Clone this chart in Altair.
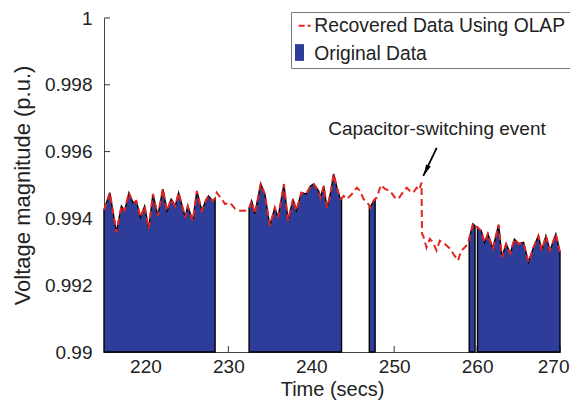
import altair as alt
import pandas as pd

# ---------------- data ----------------
time = [
    215.0, 215.7, 216.5, 217.1, 217.5, 218.0, 218.5, 218.9, 219.4, 219.9,
    220.4, 220.9, 221.5, 222.1, 222.6, 223.1, 223.6, 224.0, 224.8, 225.1,
    225.7, 226.2, 226.8, 227.3, 227.6, 228.1, 228.4,
    228.6, 229.2, 229.6, 230.2, 230.8, 231.4, 232.0,
    232.5, 232.8, 233.2, 233.9, 234.4, 235.0, 235.6, 236.0, 236.7, 237.2,
    237.8, 238.2, 238.8, 239.4, 239.9, 240.3, 240.9, 241.1, 241.5, 241.9,
    242.3, 242.7, 243.1, 243.5, 243.65,
    243.9, 244.3, 244.9, 245.5, 245.9, 246.3, 246.7,
    247.0, 247.1, 247.5, 247.7,
    247.9, 248.4, 248.9, 249.5, 250.1, 250.5, 250.9, 251.5, 251.9, 252.3,
    252.7, 253.0, 253.3, 253.35, 253.5, 253.9, 254.3, 254.7, 255.1, 255.5,
    256.1, 256.7, 257.1, 257.7, 258.1, 258.5, 258.9,
    259.05, 259.5, 259.75,
    259.9,
    260.05, 260.5, 260.9, 261.3, 261.9, 262.6, 263.0, 263.5, 264.0, 264.5,
    265.0, 265.6, 266.2, 266.8, 267.4, 267.8, 268.3, 268.8, 269.5, 270.0,
]
recovered = [
    0.99425, 0.99477, 0.99358, 0.99437, 0.99423, 0.99477, 0.99447, 0.99452, 0.99403, 0.99437,
    0.99369, 0.99473, 0.99408, 0.99488, 0.99423, 0.99458, 0.99437, 0.99477, 0.99403, 0.99437,
    0.99393, 0.99482, 0.99423, 0.99455, 0.99467, 0.99452, 0.99460,
    0.99477, 0.99458, 0.99443, 0.99447, 0.99429, 0.99423, 0.99423,
    0.99430, 0.99452, 0.99414, 0.99503, 0.99473, 0.99378, 0.99432, 0.99403, 0.99503, 0.99393,
    0.99458, 0.99423, 0.99477, 0.99473, 0.99497, 0.99503, 0.99482, 0.99462, 0.99497, 0.99432,
    0.99473, 0.99533, 0.99492, 0.99458, 0.99460,
    0.99467, 0.99458, 0.99473, 0.99492, 0.99482, 0.99458, 0.99447,
    0.99440, 0.99432, 0.99452, 0.99458,
    0.99462, 0.99500, 0.99488, 0.99482, 0.99462, 0.99458, 0.99473, 0.99492, 0.99482, 0.99477,
    0.99492, 0.99485, 0.99507, 0.99354, 0.99348, 0.99313, 0.99339, 0.99328, 0.99304, 0.99333,
    0.99324, 0.99310, 0.99295, 0.99274, 0.99304, 0.99313, 0.99324,
    0.99340, 0.99384, 0.99378,
    0.99375,
    0.99373, 0.99363, 0.99328, 0.99354, 0.99310, 0.99381, 0.99284, 0.99324, 0.99295, 0.99338,
    0.99324, 0.99328, 0.99269, 0.99313, 0.99348, 0.99304, 0.99348, 0.99304, 0.99353, 0.99299,
]
# which stretch of original (measured) data a sample belongs to; "" = missing in original
segment = (
    ["A"] * 27 + [""] * 7 + ["B"] * 25 + [""] * 7 + ["C"] * 4
    + [""] * 27 + ["D"] * 3 + [""] * 1 + ["E"] * 20
)

x_ticks = [220, 230, 240, 250, 260, 270]
y_ticks = [0.99, 0.992, 0.994, 0.996, 0.998, 1.0]

note_text = ["Capacitor-switching event"]
note_time = [255.16]
note_value = [0.99667]
arrow_time = [255.13]
arrow_value = [0.99611]
arrow_tip_time = [253.51]
arrow_tip_value = [0.99527]
head_time = [253.84]
head_value = [0.99543]

SERIES = ["Recovered Data Using OLAP", "Original Data"]
RED = "#E3261F"
BLUE = "#2E3D9A"
FONT = "Liberation Sans"
TXT = "#222222"

# ---------------- tables ----------------
df = pd.DataFrame({"time": time, "value": recovered, "segment": segment})
rec_df = df.assign(series=SERIES[0])
orig_df = df[df["segment"] != ""].assign(series=SERIES[1])
xt_df = pd.DataFrame({"time": x_ticks})
yt_df = pd.DataFrame({"value": y_ticks})
note_df = pd.DataFrame({"time": note_time, "value": note_value, "label": note_text})
arrow_df = pd.DataFrame({"time": arrow_time, "value": arrow_value,
                         "time2": arrow_tip_time, "value2": arrow_tip_value})
head_df = pd.DataFrame({"time": head_time, "value": head_value})

H = 334

X = alt.X("time:Q",
          scale=alt.Scale(domain=[215, 270], nice=False, zero=False),
          axis=alt.Axis(values=x_ticks, title="Time (secs)", titleFontSize=20,
                        labelPadding=5, titlePadding=3, labelFlush=True,
                        labelFlushOffset=9))
Y = alt.Y("value:Q",
          scale=alt.Scale(domain=[0.99, 1.0], nice=False, zero=False),
          axis=alt.Axis(values=y_ticks, format="~g", title="Voltage magnitude (p.u.)",
                        titleFontSize=22, labelPadding=12, titlePadding=10),
          stack=False)

SQUARE = "M-0.75,-1.4H0.75V1.4H-0.75Z"

# legend with the box, both labels, and the dashed red symbol
line_legend = alt.Legend(
    title=None, orient="none", legendX=187, legendY=-6, padding=4,
    strokeColor="#7a7a7a", fillColor="white",
    labelFont=FONT, labelFontSize=19.3, labelColor=TXT, labelOffset=0, labelLimit=400,
    rowPadding=8, symbolType="stroke", symbolSize=144, symbolStrokeWidth=2,
    symbolDash=[6, 3], zindex=1,
)
# legend drawing only the blue patch on the second row (its label is left empty)
fill_legend = alt.Legend(
    title=None, orient="none", legendX=186, legendY=25, padding=0,
    labelFont=FONT, labelFontSize=19, labelExpr="''", labelOffset=0,
    symbolType=SQUARE, symbolSize=144, symbolStrokeWidth=0, symbolOpacity=1,
    zindex=2,
)
STROKE = alt.Stroke("series:N", scale=alt.Scale(domain=SERIES, range=[RED, "transparent"]),
                    legend=line_legend)
FILL = alt.Fill("series:N", scale=alt.Scale(domain=[SERIES[1]], range=[BLUE]),
                legend=fill_legend)

xticks = alt.Chart(xt_df).mark_rule(color="#333", strokeWidth=1).encode(
    x=X, y=alt.value(H), y2=alt.value(H - 6))
yticks = alt.Chart(yt_df).mark_rule(color="#333", strokeWidth=1).encode(
    y=Y, x=alt.value(0), x2=alt.value(6))

area = alt.Chart(orig_df).mark_area(stroke="black", strokeWidth=1.4, opacity=1).encode(
    x=X, y=Y, detail="segment:N", fill=FILL)

line = alt.Chart(rec_df).mark_line(strokeWidth=2, strokeDash=[7, 4]).encode(
    x=X, y=Y, stroke=STROKE, order="time:Q")

note = alt.Chart(note_df).mark_text(font=FONT, fontSize=19, color=TXT,
                                    align="center", baseline="middle").encode(
    x=X, y=Y, text="label:N")
arrow = alt.Chart(arrow_df).mark_rule(color="black", strokeWidth=1.8).encode(
    x=X, y=Y, x2="time2:Q", y2="value2:Q")
head = alt.Chart(head_df).mark_point(shape="M0,-1L0.45,1L-0.45,1Z", filled=True,
                                     color="black", size=130, angle=205, opacity=1).encode(
    x=X, y=Y)

chart = alt.layer(xticks, yticks, area, line, note, arrow, head).properties(
    width=456, height=H,
    padding={"left": 96, "top": 10, "right": 10, "bottom": 50},
    autosize=alt.AutoSizeParams(type="none"),
    background="white",
).configure_view(strokeWidth=0).configure_axis(
    labelFont=FONT, labelFontSize=19, labelColor=TXT,
    titleFont=FONT, titleFontWeight="normal", titleColor=TXT,
    domainColor="#444", domainWidth=1, ticks=False, grid=False,
)

chart.save("out.html", embed_options={"renderer": "svg", "actions": False})
